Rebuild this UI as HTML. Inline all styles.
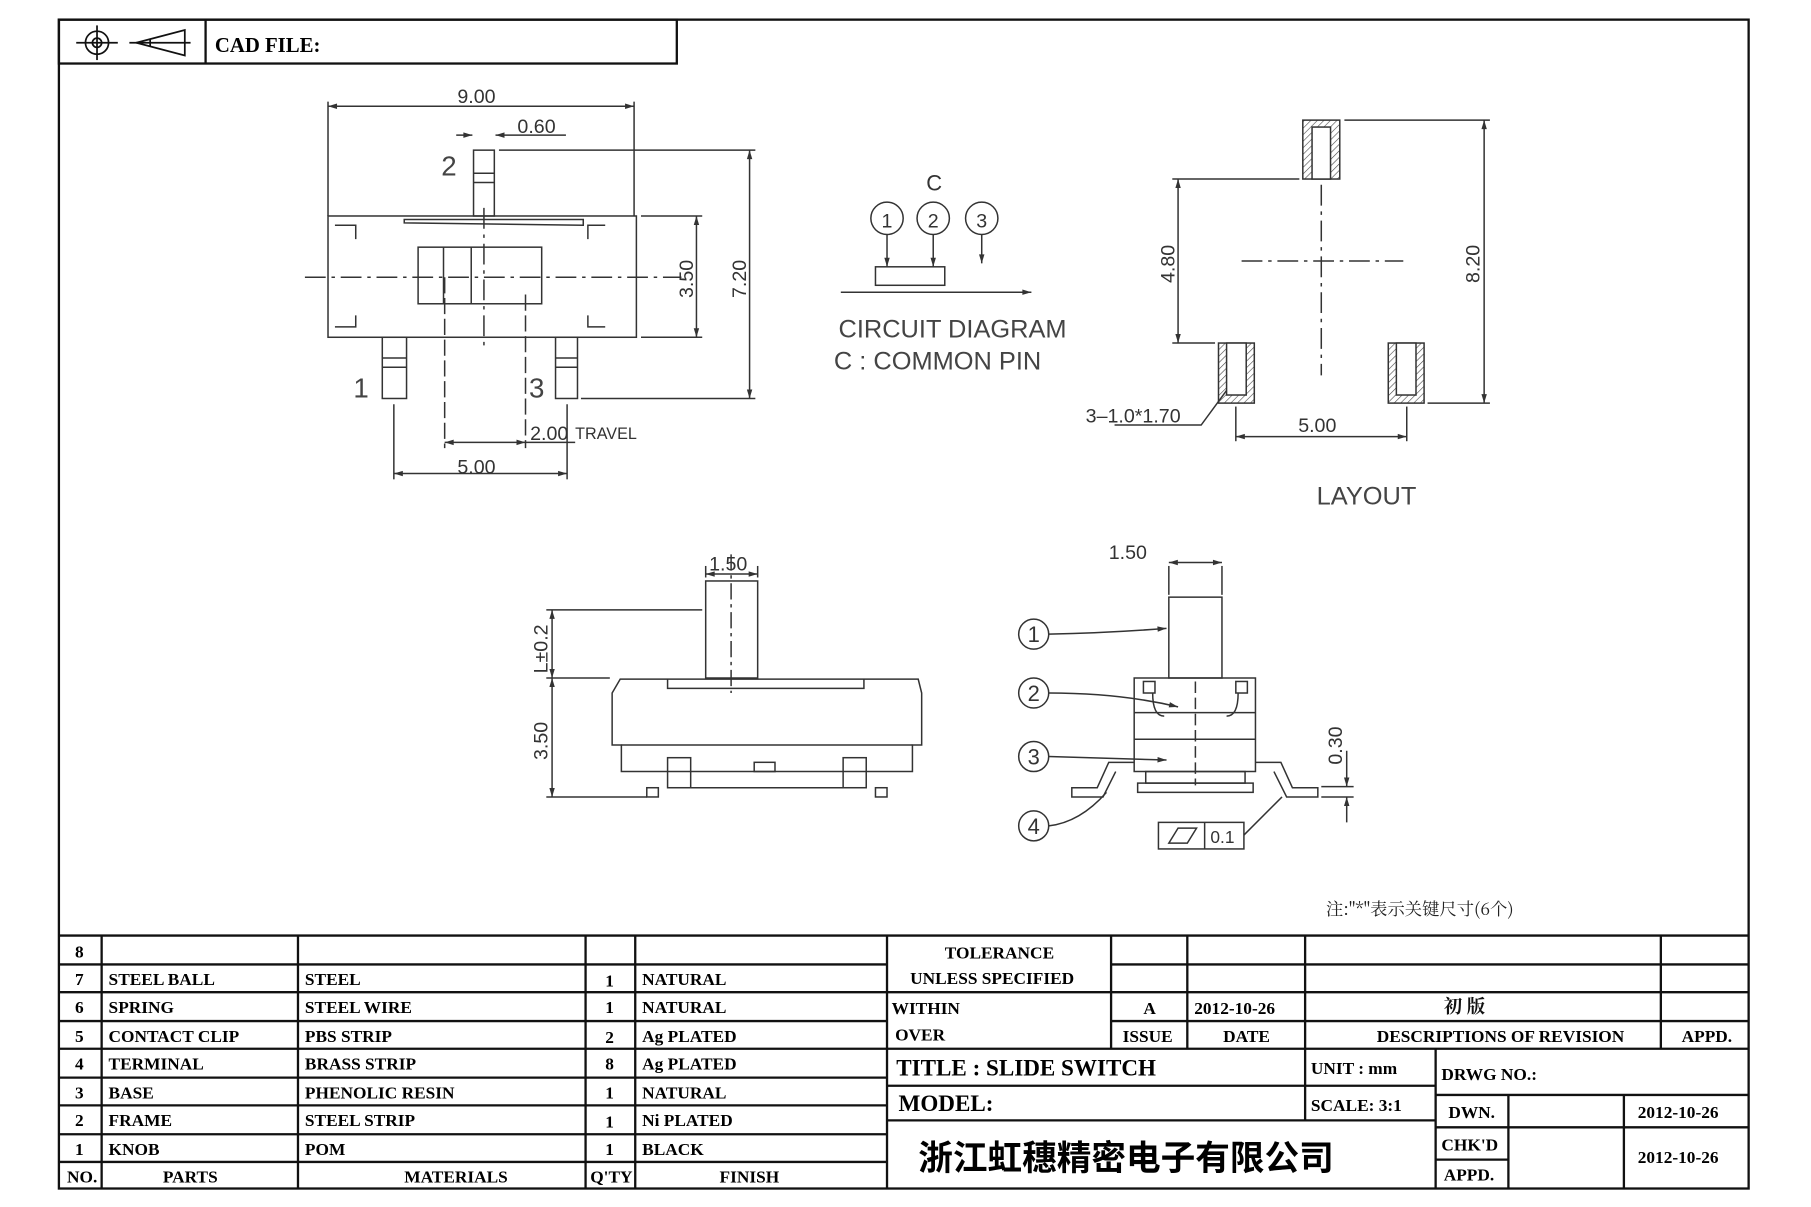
<!DOCTYPE html>
<html><head><meta charset="utf-8"><style>
html,body{margin:0;padding:0;background:#fff;}
svg{display:block;}
text{font-family:"Liberation Sans","Noto Sans CJK SC",sans-serif;fill:#222;}
.b{font-family:"Liberation Serif","Noto Serif CJK SC",serif;font-weight:bold;font-size:15px;fill:#000;}
.d{font-size:17px;fill:#333;}
</style></head><body>
<svg width="1811" height="1207" viewBox="0 0 1568 1045" preserveAspectRatio="none" xmlns="http://www.w3.org/2000/svg">
<defs>
<marker id="a" viewBox="0 0 10 10" refX="10" refY="5" markerWidth="8" markerHeight="6" orient="auto-start-reverse"><path d="M0,2 L10,5 L0,8z" fill="#333"/></marker>
<pattern id="h" width="4" height="4" patternUnits="userSpaceOnUse" patternTransform="rotate(45)"><line x1="0" y1="0" x2="0" y2="4" stroke="#444" stroke-width="1"/></pattern>
</defs>
<g fill="none" stroke="#111" stroke-width="2">
<rect x="51" y="17" width="1463" height="1012"/>
<rect x="51" y="17" width="535" height="38"/>
<line x1="178" y1="17" x2="178" y2="55"/>
</g>
<g fill="none" stroke="#111" stroke-width="1.5">
<circle cx="84" cy="37" r="10"/><circle cx="84" cy="37" r="4"/>
<line x1="66" y1="37" x2="102" y2="37"/><line x1="84" y1="22" x2="84" y2="52"/>
<path d="M118,37 L160,26 L160,48 Z M130,34 L130,40"/><line x1="112" y1="37" x2="165" y2="37"/>
</g>
<text x="186" y="45" class="b" style="font-size:18px">CAD FILE:</text>

<!-- top view -->
<g fill="none" stroke="#333" stroke-width="1.3">
<rect x="284" y="187" width="267" height="105"/>
<rect x="362" y="214" width="107" height="49"/><line x1="408" y1="214" x2="408" y2="263"/>
<line x1="384" y1="214" x2="384" y2="263"/>
<rect x="410" y="130" width="18" height="57"/><line x1="410" y1="150" x2="428" y2="150"/><line x1="410" y1="158" x2="428" y2="158"/>
<path d="M350,190 L505,190 L505,195 L350,193z"/>
<rect x="331" y="292" width="21" height="53"/><line x1="331" y1="310" x2="352" y2="310"/><line x1="331" y1="318" x2="352" y2="318"/>
<rect x="481" y="292" width="19" height="53"/><line x1="481" y1="310" x2="500" y2="310"/><line x1="481" y1="318" x2="500" y2="318"/>
<path d="M290,195h18v12 M524,195h-15v12 M290,283h18v-10 M524,283h-15v-10"/>
<path d="M264,240 H590" stroke-dasharray="18,5,3,5"/>
<path d="M419,180 V300" stroke-dasharray="18,5,3,5"/>
<line x1="284" y1="187" x2="284" y2="88"/><line x1="549" y1="187" x2="549" y2="88"/>
<line x1="284" y1="92" x2="549" y2="92" marker-start="url(#a)" marker-end="url(#a)"/>
<line x1="395" y1="117" x2="409" y2="117" marker-end="url(#a)"/><line x1="490" y1="117" x2="429" y2="117" marker-end="url(#a)"/>
<line x1="555" y1="187" x2="608" y2="187"/><line x1="555" y1="292" x2="608" y2="292"/>
<line x1="603" y1="187" x2="603" y2="292" marker-start="url(#a)" marker-end="url(#a)"/>
<line x1="432" y1="130" x2="654" y2="130"/><line x1="503" y1="345" x2="654" y2="345"/>
<line x1="649" y1="130" x2="649" y2="345" marker-start="url(#a)" marker-end="url(#a)"/>
<line x1="341" y1="350" x2="341" y2="415"/><line x1="491" y1="350" x2="491" y2="415"/>
<line x1="341" y1="410" x2="491" y2="410" marker-start="url(#a)" marker-end="url(#a)"/>
<line x1="385" y1="240" x2="385" y2="388" stroke-dasharray="14,4"/><line x1="455" y1="255" x2="455" y2="388" stroke-dasharray="14,4"/>
<line x1="385" y1="383" x2="455" y2="383" marker-start="url(#a)" marker-end="url(#a)"/><line x1="455" y1="383" x2="498" y2="383"/>
</g>
<text x="396" y="89" class="d">9.00</text><text x="448" y="115" class="d">0.60</text>
<text x="382" y="152" style="font-size:24px;fill:#444">2</text>
<text x="306" y="344" style="font-size:24px;fill:#444">1</text><text x="458" y="344" style="font-size:24px;fill:#444">3</text>
<text x="600" y="258" class="d" transform="rotate(-90 600 258)">3.50</text>
<text x="646" y="258" class="d" transform="rotate(-90 646 258)">7.20</text>
<text x="396" y="410" class="d">5.00</text>
<text x="459" y="381" class="d">2.00</text><text x="498" y="380" style="font-size:14px;fill:#333">TRAVEL</text>

<!-- circuit -->
<g fill="none" stroke="#333" stroke-width="1.3">
<circle cx="768" cy="189" r="14"/><circle cx="808" cy="189" r="14"/><circle cx="850" cy="189" r="14"/>
<line x1="768" y1="203" x2="768" y2="231" marker-end="url(#a)"/><line x1="808" y1="203" x2="808" y2="231" marker-end="url(#a)"/><line x1="850" y1="203" x2="850" y2="228" marker-end="url(#a)"/>
<rect x="758" y="231" width="60" height="16"/>
<line x1="728" y1="253" x2="893" y2="253" marker-end="url(#a)"/>
</g>
<text x="768" y="197" class="d" text-anchor="middle">1</text><text x="808" y="197" class="d" text-anchor="middle">2</text><text x="850" y="197" class="d" text-anchor="middle">3</text>
<text x="802" y="165" class="d" style="font-size:19px">C</text>
<text x="726" y="292" style="font-size:22px;fill:#444">CIRCUIT  DIAGRAM</text>
<text x="722" y="320" style="font-size:22px;fill:#444">C  :  COMMON  PIN</text>

<!-- layout -->
<g fill="none" stroke="#333" stroke-width="1.3">
<rect x="1128" y="104" width="32" height="51" fill="url(#h)"/><rect x="1136" y="110" width="16" height="45" fill="#fff"/>
<rect x="1055" y="297" width="31" height="52" fill="url(#h)"/><rect x="1062" y="297" width="17" height="45" fill="#fff"/>
<rect x="1202" y="297" width="31" height="52" fill="url(#h)"/><rect x="1209" y="297" width="17" height="45" fill="#fff"/>
<path d="M1075,226 H1215 M1144,160 V325" stroke-dasharray="18,5,3,5"/>
<line x1="1015" y1="155" x2="1125" y2="155"/><line x1="1015" y1="297" x2="1052" y2="297"/>
<line x1="1020" y1="155" x2="1020" y2="297" marker-start="url(#a)" marker-end="url(#a)"/>
<line x1="1164" y1="104" x2="1290" y2="104"/><line x1="1236" y1="349" x2="1290" y2="349"/>
<line x1="1285" y1="104" x2="1285" y2="349" marker-start="url(#a)" marker-end="url(#a)"/>
<line x1="1070" y1="352" x2="1070" y2="382"/><line x1="1218" y1="352" x2="1218" y2="382"/>
<line x1="1070" y1="378" x2="1218" y2="378" marker-start="url(#a)" marker-end="url(#a)"/>
<path d="M965,368 H1040 L1062,338"/>
</g>
<text x="1017" y="245" class="d" transform="rotate(-90 1017 245)">4.80</text>
<text x="1281" y="245" class="d" transform="rotate(-90 1281 245)">8.20</text>
<text x="1124" y="374" class="d">5.00</text>
<text x="940" y="366" class="d">3–1.0*1.70</text>
<text x="1140" y="437" style="font-size:22px;fill:#444">LAYOUT</text>

<!-- side view -->
<g fill="none" stroke="#333" stroke-width="1.3">
<rect x="611" y="503" width="45" height="84"/>
<path d="M530,600 L537,588 L795,588 L798,600 V645 H790 V668 H538 V645 H530 Z"/>
<path d="M578,588 V596 H748 V588"/>
<line x1="538" y1="645" x2="790" y2="645"/>
<rect x="653" y="660" width="18" height="8"/>
<rect x="578" y="656" width="20" height="26"/><rect x="730" y="656" width="20" height="26"/>
<rect x="560" y="682" width="10" height="8"/><rect x="758" y="682" width="10" height="8"/>
<line x1="598" y1="682" x2="730" y2="682"/>
<line x1="633" y1="480" x2="633" y2="600" stroke-dasharray="14,4,3,4"/>
<line x1="611" y1="500" x2="611" y2="490"/><line x1="656" y1="500" x2="656" y2="490"/>
<line x1="611" y1="497" x2="656" y2="497" marker-start="url(#a)" marker-end="url(#a)"/>
<line x1="473" y1="528" x2="608" y2="528"/><line x1="473" y1="587" x2="528" y2="587"/><line x1="473" y1="690" x2="560" y2="690"/>
<line x1="478" y1="528" x2="478" y2="587" marker-start="url(#a)" marker-end="url(#a)"/>
<line x1="478" y1="587" x2="478" y2="690" marker-start="url(#a)" marker-end="url(#a)"/>
</g>
<text x="614" y="494" class="d">1.50</text>
<text x="474" y="583" class="d" transform="rotate(-90 474 583)">L±0.2</text>
<text x="474" y="658" class="d" transform="rotate(-90 474 658)">3.50</text>

<!-- end view -->
<g fill="none" stroke="#333" stroke-width="1.3">
<rect x="1012" y="517" width="46" height="70"/>
<line x1="1012" y1="490" x2="1012" y2="515"/><line x1="1058" y1="490" x2="1058" y2="515"/>
<line x1="1012" y1="487" x2="1058" y2="487" marker-start="url(#a)" marker-end="url(#a)"/>
<path d="M982,587 H1087 V668 H982 Z M982,617 H1087 M982,640 H1087"/>
<path d="M998,600 q0,20 10,20 M1072,600 q0,20 -10,20"/>
<rect x="990" y="590" width="10" height="10"/><rect x="1070" y="590" width="10" height="10"/>
<path d="M982,660 L960,660 L950,682 H928 V690 H955 L966,668 M1087,660 L1109,660 L1119,682 H1141 V690 H1114 L1103,668"/>
<rect x="992" y="668" width="86" height="10"/><rect x="985" y="678" width="100" height="8"/>
<line x1="1035" y1="590" x2="1035" y2="680" stroke-dasharray="10,4"/>
<line x1="1144" y1="681" x2="1172" y2="681"/><line x1="1144" y1="690" x2="1172" y2="690"/>
<line x1="1166" y1="650" x2="1166" y2="681" marker-end="url(#a)"/><line x1="1166" y1="712" x2="1166" y2="690" marker-end="url(#a)"/>
<circle cx="895" cy="549" r="13"/><circle cx="895" cy="600" r="13"/><circle cx="895" cy="655" r="13"/><circle cx="895" cy="715" r="13"/>
<path d="M908,549 Q960,548 1010,544" marker-end="url(#a)"/>
<path d="M908,600 Q970,600 1020,612" marker-end="url(#a)"/>
<path d="M908,655 L1010,658" marker-end="url(#a)"/>
<path d="M908,715 Q935,712 958,686"/>
<rect x="1003" y="712" width="74" height="23"/><line x1="1043" y1="712" x2="1043" y2="735"/>
<path d="M1012,730 L1020,717 H1036 L1028,730 Z"/>
<path d="M1077,723 L1110,690"/>
</g>
<text x="960" y="484" class="d">1.50</text>
<text x="895" y="556" class="d" text-anchor="middle" style="font-size:19px">1</text>
<text x="895" y="607" class="d" text-anchor="middle" style="font-size:19px">2</text>
<text x="895" y="662" class="d" text-anchor="middle" style="font-size:19px">3</text>
<text x="895" y="722" class="d" text-anchor="middle" style="font-size:19px">4</text>
<text x="1162" y="662" class="d" transform="rotate(-90 1162 662)">0.30</text>
<text x="1048" y="730" class="d" style="font-size:15px">0.1</text>
<text x="1148" y="792" style="font-family:'Noto Serif CJK SC',serif;font-size:15px;fill:#222">注:"*"表示关键尺寸(6个)</text>

<!-- table -->
<g stroke="#111" stroke-width="2" fill="none">
<line x1="51" y1="810" x2="1514" y2="810"/>
<path d="M51,835H768 M51,859H768 M51,884H768 M51,908H768 M51,933H768 M51,957H768 M51,982H768 M51,1006H768"/>
<path d="M88,810V1029 M258,810V1029 M507,810V1029 M550,810V1029 M768,810V1029"/>
<path d="M962,835H1514 M768,859H1514 M962,884H1514 M768,908H1514"/>
<path d="M962,810V908 M1028,810V908 M1130,810V908 M1438,810V908"/>
<path d="M768,940H1243 M768,970H1243 M1130,908V970 M1243,908V1029 M1243,948H1514 M1243,976H1514 M1243,1004H1306 M1306,948V1029 M1406,948V1029"/>
</g>
<g class="b">
<text x="65" y="829" class="b">8</text>
<text x="65" y="853" class="b">7</text><text x="94" y="853" class="b">STEEL BALL</text><text x="264" y="853" class="b">STEEL</text><text x="524" y="854" class="b">1</text><text x="556" y="853" class="b">NATURAL</text>
<text x="65" y="877" class="b">6</text><text x="94" y="877" class="b">SPRING</text><text x="264" y="877" class="b">STEEL WIRE</text><text x="524" y="877" class="b">1</text><text x="556" y="877" class="b">NATURAL</text>
<text x="65" y="902" class="b">5</text><text x="94" y="902" class="b">CONTACT CLIP</text><text x="264" y="902" class="b">PBS STRIP</text><text x="524" y="903" class="b">2</text><text x="556" y="902" class="b">Ag PLATED</text>
<text x="65" y="926" class="b">4</text><text x="94" y="926" class="b">TERMINAL</text><text x="264" y="926" class="b">BRASS STRIP</text><text x="524" y="926" class="b">8</text><text x="556" y="926" class="b">Ag PLATED</text>
<text x="65" y="951" class="b">3</text><text x="94" y="951" class="b">BASE</text><text x="264" y="951" class="b">PHENOLIC RESIN</text><text x="524" y="951" class="b">1</text><text x="556" y="951" class="b">NATURAL</text>
<text x="65" y="975" class="b">2</text><text x="94" y="975" class="b">FRAME</text><text x="264" y="975" class="b">STEEL STRIP</text><text x="524" y="976" class="b">1</text><text x="556" y="975" class="b">Ni PLATED</text>
<text x="65" y="1000" class="b">1</text><text x="94" y="1000" class="b">KNOB</text><text x="264" y="1000" class="b">POM</text><text x="524" y="1000" class="b">1</text><text x="556" y="1000" class="b">BLACK</text>
<text x="58" y="1024" class="b">NO.</text><text x="141" y="1024" class="b">PARTS</text><text x="350" y="1024" class="b">MATERIALS</text><text x="511" y="1024" class="b">Q'TY</text><text x="623" y="1024" class="b">FINISH</text>
<text x="818" y="830" class="b">TOLERANCE</text><text x="788" y="852" class="b">UNLESS  SPECIFIED</text>
<text x="772" y="878" class="b">WITHIN</text><text x="775" y="901" class="b">OVER</text>
<text x="990" y="878" class="b">A</text><text x="1034" y="878" class="b">2012-10-26</text>
<text x="1250" y="877" style="font-family:'Noto Serif CJK SC',serif;font-size:16px;fill:#111">初 版</text>
<text x="972" y="902" class="b">ISSUE</text><text x="1059" y="902" class="b">DATE</text><text x="1192" y="902" class="b">DESCRIPTIONS OF REVISION</text><text x="1456" y="902" class="b">APPD.</text>
<text x="776" y="931" class="b" style="font-size:20px">TITLE : SLIDE SWITCH</text>
<text x="1135" y="930" class="b">UNIT :  mm</text>
<text x="1248" y="935" class="b">DRWG NO.:</text>
<text x="778" y="962" class="b" style="font-size:20px">MODEL:</text>
<text x="1135" y="962" class="b">SCALE:  3:1</text>
<text x="1254" y="968" class="b">DWN.</text><text x="1418" y="968" class="b">2012-10-26</text>
<text x="1248" y="996" class="b">CHK'D</text><text x="1418" y="1007" class="b">2012-10-26</text>
<text x="1250" y="1022" class="b">APPD.</text>
<text x="795" y="1013" style="font-family:'Noto Sans CJK SC',sans-serif;font-weight:bold;font-size:30px;fill:#000">浙江虹穗精密电子有限公司</text>
</g>
</svg>
</body></html>
